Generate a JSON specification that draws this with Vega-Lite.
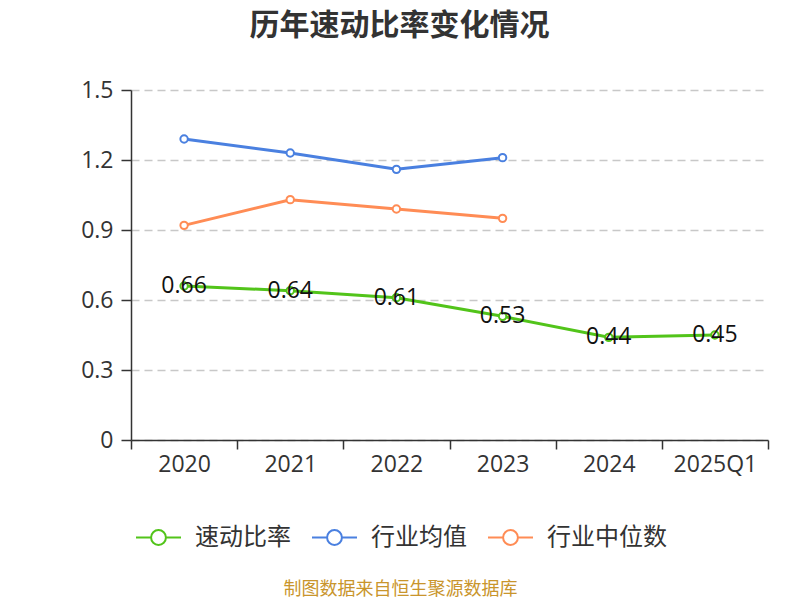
{
  "$schema": "https://vega.github.io/schema/vega-lite/v6.json",
  "width": 637,
  "height": 350,
  "autosize": {"type": "none"},
  "padding": {"left": 131, "top": 90, "right": 32, "bottom": 160},
  "background": "white",
  "config": {
    "font": "Open Sans, Noto Sans CJK SC",
    "view": {"stroke": null}
  },
  "title": {
    "text": "历年速动比率变化情况",
    "font": "Noto Sans CJK SC",
    "fontSize": 30,
    "fontWeight": "bold",
    "color": "#333333",
    "anchor": "middle",
    "dx": -50,
    "offset": 38
  },
  "data": {
    "values": [
      {"year": "2020", "series": "速动比率", "value": 0.66},
      {"year": "2021", "series": "速动比率", "value": 0.64},
      {"year": "2022", "series": "速动比率", "value": 0.61},
      {"year": "2023", "series": "速动比率", "value": 0.53},
      {"year": "2024", "series": "速动比率", "value": 0.44},
      {"year": "2025Q1", "series": "速动比率", "value": 0.45},
      {"year": "2020", "series": "行业均值", "value": 1.29},
      {"year": "2021", "series": "行业均值", "value": 1.23},
      {"year": "2022", "series": "行业均值", "value": 1.16},
      {"year": "2023", "series": "行业均值", "value": 1.21},
      {"year": "2020", "series": "行业中位数", "value": 0.92},
      {"year": "2021", "series": "行业中位数", "value": 1.03},
      {"year": "2022", "series": "行业中位数", "value": 0.99},
      {"year": "2023", "series": "行业中位数", "value": 0.95}
    ]
  },
  "encoding": {
    "x": {
      "field": "year",
      "type": "ordinal",
      "sort": ["2020", "2021", "2022", "2023", "2024", "2025Q1"],
      "scale": {"domain": ["2020", "2021", "2022", "2023", "2024", "2025Q1"], "paddingInner": 0, "paddingOuter": 0},
      "axis": {
        "title": "制图数据来自恒生聚源数据库",
        "titleFont": "Noto Sans CJK SC",
        "titleColor": "#c9952c",
        "titleFontSize": 18,
        "titleFontWeight": "normal",
        "titleX": 269,
        "titleY": 149,
        "titleBaseline": "middle",
        "titleAnchor": "middle",
        "labelAngle": 0,
        "labelFontSize": 23,
        "labelColor": "#333333",
        "labelPadding": 4,
        "tickBand": "extent",
        "tickSize": 9,
        "tickWidth": 1.5,
        "tickColor": "#333333",
        "domainColor": "#333333",
        "domainWidth": 1.5,
        "grid": false
      }
    },
    "y": {
      "field": "value",
      "type": "quantitative",
      "scale": {"domain": [0, 1.5], "nice": false},
      "axis": {
        "title": null,
        "values": [0, 0.3, 0.6, 0.9, 1.2, 1.5],
        "labelExpr": "datum.value == 0 ? '0' : format(datum.value, '.1f')",
        "labelFontSize": 23,
        "labelColor": "#333333",
        "labelPadding": 8,
        "tickSize": 10,
        "tickWidth": 1.5,
        "tickColor": "#333333",
        "domainColor": "#333333",
        "domainWidth": 1.5,
        "gridColor": "#c8c8c8",
        "gridWidth": 1.5,
        "gridDash": [8, 5]
      }
    }
  },
  "layer": [
    {
      "mark": {"type": "line", "strokeWidth": 3},
      "encoding": {
        "stroke": {
          "field": "series",
          "type": "nominal",
          "scale": {"domain": ["速动比率", "行业均值", "行业中位数"], "range": ["#52c41a", "#4a80e0", "#ff8c55"]},
          "legend": {
            "title": null,
            "orient": "none",
            "legendX": 4,
            "legendY": 424,
            "direction": "horizontal",
            "symbolType": "M-1,0L-0.33,0M0.33,0L1,0M-0.33,0A0.33,0.33,0,1,1,0.33,0A0.33,0.33,0,1,1,-0.33,0",
            "symbolSize": 2025,
            "symbolStrokeWidth": 2,
            "symbolFillColor": "white",
            "labelFont": "Noto Sans CJK SC",
            "labelFontSize": 24,
            "labelColor": "#333333",
            "labelOffset": 13,
            "columnPadding": 17,
            "gridAlign": "none"
          }
        }
      }
    },
    {
      "mark": {"type": "point", "shape": "circle", "filled": false, "fill": "white", "fillOpacity": 1, "size": 55, "strokeWidth": 2, "opacity": 1},
      "encoding": {
        "stroke": {"field": "series", "type": "nominal"}
      }
    },
    {
      "transform": [{"filter": "datum.series == '速动比率'"}],
      "mark": {"type": "text", "fontSize": 23, "color": "#111111", "baseline": "middle", "align": "center"},
      "encoding": {
        "text": {"field": "value", "type": "quantitative", "format": ".2f"}
      }
    }
  ]
}
